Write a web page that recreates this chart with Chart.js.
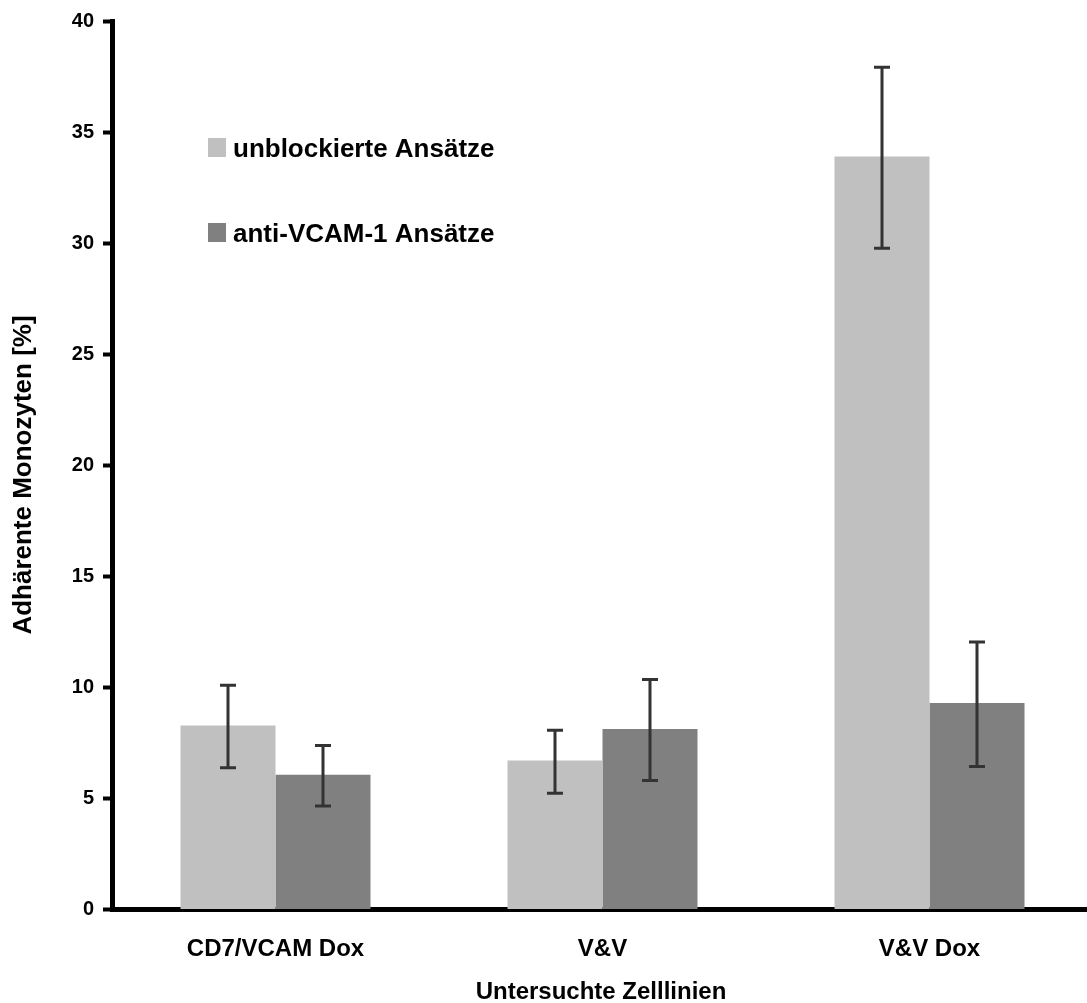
<!DOCTYPE html>
<html>
<head>
<meta charset="utf-8">
<script src="https://cdn.jsdelivr.net/npm/chart.js@4.4.1/dist/chart.umd.min.js"></script>
<style>
html,body{margin:0;padding:0;background:#fff;overflow:hidden;}
#wrap{width:1094px;height:1003px;}
</style>
</head>
<body>
<div id="wrap"><canvas id="c" width="1094" height="1003"></canvas></div>
<script>
const categories = ['CD7/VCAM Dox', 'V&V', 'V&V Dox'];
const seriesNames = ['unblockierte Ansätze', 'anti-VCAM-1 Ansätze'];
const unblocked = [8.28, 6.71, 33.9];
const unblockedHigh = [10.1, 8.07, 37.92];
const unblockedLow = [6.38, 5.23, 29.77];
const antiVcam = [6.07, 8.13, 9.3];
const antiVcamHigh = [7.38, 10.36, 12.04];
const antiVcamLow = [4.66, 5.81, 6.44];
const yTicks = [0, 5, 10, 15, 20, 25, 30, 35, 40];
const yTitle = 'Adhärente Monozyten [%]';
const xTitle = 'Untersuchte Zelllinien';

const FONT = "'Liberation Sans', Arial, Helvetica, sans-serif";
const errHigh = [unblockedHigh, antiVcamHigh];
const errLow = [unblockedLow, antiVcamLow];

const errorBars = {
  id: 'errorBars',
  afterDatasetsDraw(chart) {
    const ctx = chart.ctx;
    const ys = chart.scales.y;
    ctx.save();
    ctx.strokeStyle = '#333333';
    ctx.lineWidth = 3;
    chart.data.datasets.forEach((ds, i) => {
      const meta = chart.getDatasetMeta(i);
      meta.data.forEach((bar, j) => {
        const x = bar.x;
        const y1 = ys.getPixelForValue(errHigh[i][j]);
        const y2 = ys.getPixelForValue(errLow[i][j]);
        ctx.beginPath();
        ctx.moveTo(x, y1); ctx.lineTo(x, y2);
        ctx.moveTo(x - 8, y1); ctx.lineTo(x + 8, y1);
        ctx.moveTo(x - 8, y2); ctx.lineTo(x + 8, y2);
        ctx.stroke();
      });
    });
    ctx.restore();
  }
};

const extras = {
  id: 'extras',
  afterDraw(chart) {
    const ctx = chart.ctx;
    ctx.save();
    // legend
    ctx.font = 'bold 26px ' + FONT;
    ctx.textBaseline = 'alphabetic';
    ctx.textAlign = 'left';
    const rows = [157, 242];
    chart.data.datasets.forEach((ds, i) => {
      ctx.fillStyle = ds.backgroundColor;
      ctx.fillRect(208, rows[i] - 19, 18, 19);
      ctx.fillStyle = '#000';
      ctx.fillText(ds.label, 233, rows[i]);
    });
    // y title
    ctx.font = 'bold 26px ' + FONT;
    ctx.textAlign = 'center';
    ctx.textBaseline = 'middle';
    ctx.translate(24, 475);
    ctx.rotate(-Math.PI / 2);
    ctx.fillText(yTitle, 0, 0);
    ctx.setTransform(1, 0, 0, 1, 0, 0);
    // x title
    ctx.font = 'bold 24px ' + FONT;
    ctx.fillText(xTitle, 601, 992);
    ctx.restore();
  }
};

new Chart(document.getElementById('c'), {
  type: 'bar',
  data: {
    labels: categories,
    datasets: [
      { label: seriesNames[0], data: unblocked, backgroundColor: '#C0C0C0', borderWidth: 0,
        categoryPercentage: 0.581, barPercentage: 1.0 },
      { label: seriesNames[1], data: antiVcam, backgroundColor: '#808080', borderWidth: 0,
        categoryPercentage: 0.581, barPercentage: 1.0 }
    ]
  },
  options: {
    responsive: false,
    animation: false,
    devicePixelRatio: 1,
    layout: { padding: { top: 18, right: 1, bottom: 0, left: 0 } },
    plugins: { legend: { display: false }, tooltip: { enabled: false } },
    scales: {
      x: {
        grid: { display: true, drawOnChartArea: false, drawTicks: false },
        border: { display: true, color: '#000', width: 5 },
        ticks: { color: '#000', font: { family: FONT, size: 24, weight: 'bold', lineHeight: 1 }, padding: 28, maxRotation: 0 },
        afterFit(s) { s.height = 93.5; }
      },
      y: {
        min: 0, max: 40,
        afterBuildTicks(s) { s.ticks = yTicks.map(v => ({ value: v })); },
        grid: { display: true, drawOnChartArea: false, drawTicks: true, tickLength: 9, tickWidth: 4, tickColor: '#000' },
        border: { display: true, color: '#000', width: 5 },
        ticks: { color: '#000', font: { family: FONT, size: 20, weight: 'bold' }, padding: 9 },
        afterFit(s) { s.width = 112; }
      }
    }
  },
  plugins: [errorBars, extras]
});
</script>
</body>
</html>
